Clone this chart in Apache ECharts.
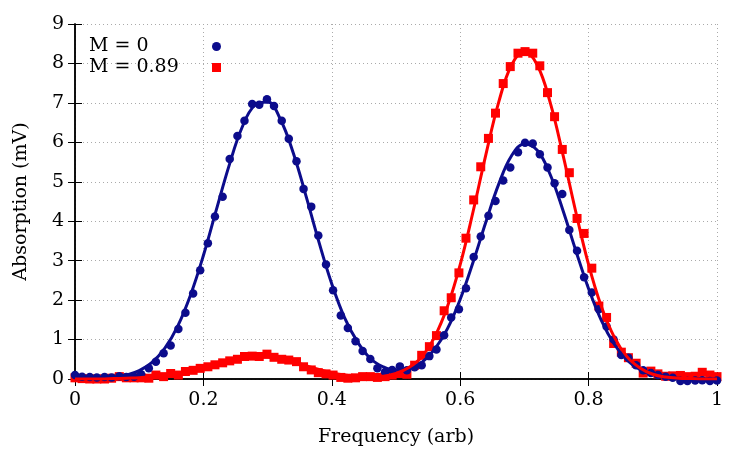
<!DOCTYPE html>
<html>
<head>
<meta charset="utf-8">
<script src="https://cdn.jsdelivr.net/npm/echarts@6/dist/echarts.min.js"></script>
<style>
  html, body { margin: 0; padding: 0; background: #fff; }
</style>
</head>
<body>
<div id="main" style="width: 750px; height: 450px"></div>
<script>
// measured points (x = frequency, arb)
var xs = [0.000,0.011,0.023,0.034,0.046,0.057,0.069,0.080,0.092,0.103,
  0.115,0.126,0.138,0.149,0.161,0.172,0.184,0.195,0.207,0.218,
  0.230,0.241,0.253,0.264,0.276,0.287,0.299,0.310,0.322,0.333,
  0.345,0.356,0.368,0.379,0.391,0.402,0.414,0.425,0.437,0.448,
  0.460,0.471,0.483,0.494,0.506,0.517,0.529,0.540,0.552,0.563,
  0.575,0.586,0.598,0.609,0.621,0.632,0.644,0.655,0.667,0.678,
  0.690,0.701,0.713,0.724,0.736,0.747,0.759,0.770,0.782,0.793,
  0.805,0.816,0.828,0.839,0.851,0.862,0.874,0.885,0.897,0.908,
  0.920,0.931,0.943,0.954,0.966,0.977,0.989,1.000];

// M = 0 (blue dots)
var blueY = [0.10,0.06,0.05,0.04,0.05,0.04,0.07,0.05,0.06,0.12,
  0.27,0.44,0.65,0.85,1.27,1.68,2.17,2.76,3.44,4.12,
  4.62,5.58,6.16,6.55,6.97,6.95,7.09,6.92,6.55,6.09,
  5.52,4.82,4.37,3.64,2.90,2.25,1.61,1.29,0.96,0.71,
  0.51,0.27,0.18,0.23,0.32,0.22,0.30,0.35,0.58,0.75,
  1.11,1.56,1.77,2.30,3.09,3.61,4.14,4.51,5.03,5.36,
  5.75,5.99,5.97,5.70,5.36,4.96,4.69,3.78,3.25,2.58,
  2.19,1.77,1.33,1.00,0.61,0.54,0.35,0.22,0.15,0.10,
  0.06,0.03,-0.05,-0.05,-0.04,-0.03,-0.05,-0.04];

// M = 0.89 (red squares)
var redY = [0.03,0.01,0.00,0.00,0.00,0.02,0.06,0.03,0.03,0.03,
  0.02,0.10,0.06,0.14,0.10,0.19,0.22,0.27,0.31,0.36,
  0.41,0.46,0.50,0.57,0.58,0.57,0.63,0.55,0.50,0.48,
  0.44,0.31,0.23,0.16,0.13,0.10,0.04,0.02,0.03,0.06,
  0.06,0.04,0.06,0.10,0.14,0.12,0.35,0.60,0.82,1.10,
  1.73,2.06,2.69,3.57,4.54,5.38,6.10,6.74,7.49,7.92,
  8.26,8.30,8.26,7.94,7.26,6.65,5.82,5.23,4.07,3.69,
  2.81,1.85,1.56,0.90,0.68,0.54,0.40,0.15,0.20,0.13,
  0.07,0.08,0.09,0.06,0.07,0.17,0.10,0.06];

// fitted curves
var fitX = [0.00,0.02,0.04,0.06,0.08,0.10,0.12,0.14,0.16,0.18,
  0.20,0.22,0.24,0.26,0.28,0.30,0.32,0.34,0.36,0.38,
  0.40,0.42,0.44,0.46,0.48,0.50,0.52,0.54,0.56,0.58,
  0.60,0.62,0.64,0.66,0.68,0.70,0.72,0.74,0.76,0.78,
  0.80,0.82,0.84,0.86,0.88,0.90,0.92,0.94,0.96,0.98,1.00];
var blueFit = [0.00,0.01,0.02,0.04,0.10,0.21,0.42,0.78,1.34,2.13,
  3.13,4.28,5.41,6.37,6.94,7.02,6.58,5.73,4.63,3.47,
  2.41,1.55,0.94,0.52,0.31,0.22,0.26,0.42,0.75,1.27,
  2.02,2.96,3.98,4.94,5.66,5.96,5.80,5.19,4.28,3.26,
  2.29,1.48,0.88,0.48,0.24,0.11,0.05,0.02,0.01,0.00,0.00];
var redFit = [0.00,0.00,0.00,0.01,0.02,0.03,0.06,0.10,0.15,0.21,
  0.29,0.37,0.45,0.51,0.55,0.55,0.51,0.44,0.34,0.24,
  0.16,0.10,0.07,0.06,0.07,0.14,0.29,0.56,1.06,1.83,
  2.90,4.24,5.69,7.02,7.96,8.30,7.96,7.02,5.69,4.24,
  2.90,1.83,1.06,0.56,0.28,0.12,0.05,0.02,0.01,0.00,0.00];

var BLUE = "#0c0c8c";
var RED = "#ff0000";
var FONT = "DejaVu Serif";

function pairs(x, y) {
  var out = [];
  for (var i = 0; i < x.length; i++) out.push([x[i], y[i]]);
  return out;
}

var myChart = echarts.init(document.getElementById("main"));

var option = {
  animation: false,
  textStyle: { fontFamily: FONT },
  grid: { left: 75, right: 33, top: 24, bottom: 71, outerBoundsMode: "none", containLabel: false },
  legend: {
    orient: "vertical",
    left: 84,
    top: 32,
    align: "right",
    itemGap: 2,
    itemWidth: 9,
    itemHeight: 9,
    formatter: "{t|{name}}",
    textStyle: {
      fontFamily: FONT, fontSize: 19, color: "#000",
      rich: { t: { fontFamily: FONT, fontSize: 19, color: "#000", width: 118, align: "left" } }
    },
    data: [
      { name: "M = 0", icon: "circle" },
      { name: "M = 0.89", icon: "rect" }
    ]
  },
  xAxis: [
    {
      type: "value", min: 0, max: 1, interval: 0.2,
      name: "Frequency (arb)", nameLocation: "middle", nameGap: 49,
      nameTextStyle: { fontFamily: FONT, fontSize: 19, color: "#000" },
      axisLine: { lineStyle: { color: "#000", width: 1.5 } },
      axisTick: { inside: true, length: 7, lineStyle: { color: "#000" } },
      axisLabel: { fontFamily: FONT, fontSize: 19, color: "#000", margin: 12 },
      splitLine: { show: true, lineStyle: { type: [1, 3], color: "#aaa" } }
    },
    {
      type: "value", min: 0, max: 1, interval: 0.2, position: "top",
      axisLine: { lineStyle: { color: "#000", width: 1.5 } },
      axisTick: { inside: true, length: 7, lineStyle: { color: "#000" } },
      axisLabel: { show: false },
      splitLine: { show: false }
    }
  ],
  yAxis: [
    {
      type: "value", min: 0, max: 9, interval: 1,
      name: "Absorption (mV)", nameLocation: "middle", nameGap: 44,
      nameTextStyle: { fontFamily: FONT, fontSize: 19, color: "#000" },
      axisLine: { show: true, lineStyle: { color: "#000", width: 1.5 } },
      axisTick: { show: true, inside: true, length: 7, lineStyle: { color: "#000" } },
      axisLabel: { fontFamily: FONT, fontSize: 19, color: "#000", margin: 11 },
      splitLine: { show: true, lineStyle: { type: [1, 3], color: "#aaa" } }
    },
    {
      type: "value", min: 0, max: 9, interval: 1, position: "right",
      axisLine: { show: true, lineStyle: { color: "#000", width: 1.5 } },
      axisTick: { show: true, inside: true, length: 7, lineStyle: { color: "#000" } },
      axisLabel: { show: false },
      splitLine: { show: false }
    }
  ],
  series: [
    {
      name: "M = 0.89", type: "scatter", symbol: "rect", symbolSize: 9,
      itemStyle: { color: RED, opacity: 1 }, data: pairs(xs, redY), clip: false, z: 2
    },
    {
      name: "M = 0", type: "scatter", symbol: "circle", symbolSize: 8.5,
      itemStyle: { color: BLUE, opacity: 1 }, data: pairs(xs, blueY), clip: false, z: 3
    },
    {
      name: "fit M = 0", type: "line", smooth: 0.4, showSymbol: false,
      lineStyle: { color: BLUE, width: 3 }, data: pairs(fitX, blueFit), z: 4
    },
    {
      name: "fit M = 0.89", type: "line", smooth: 0.4, showSymbol: false,
      lineStyle: { color: RED, width: 3 }, data: pairs(fitX, redFit), z: 4
    }
  ]
};

myChart.setOption(option);
</script>
</body>
</html>
